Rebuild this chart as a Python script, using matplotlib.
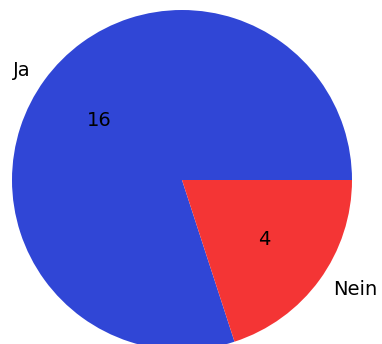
import matplotlib
matplotlib.use("Agg")
import matplotlib.pyplot as plt

labels = ["Ja", "Nein"]
counts = [16, 4]
colors = ["#3046d6", "#f43535"]

total = sum(counts)

fig = plt.figure(figsize=(3.82, 3.44), dpi=100)
ax = fig.add_axes([12 / 382, -6 / 344, 340 / 382, 340 / 344])
ax.pie(counts, labels=labels, colors=colors,
       autopct=lambda p: f"{round(p * total / 100):d}",
       textprops={"fontsize": 14})
ax.set_xlim(-1, 1)
ax.set_ylim(-1, 1)
ax.set_aspect("equal")
fig.savefig("out.png", dpi=100)
